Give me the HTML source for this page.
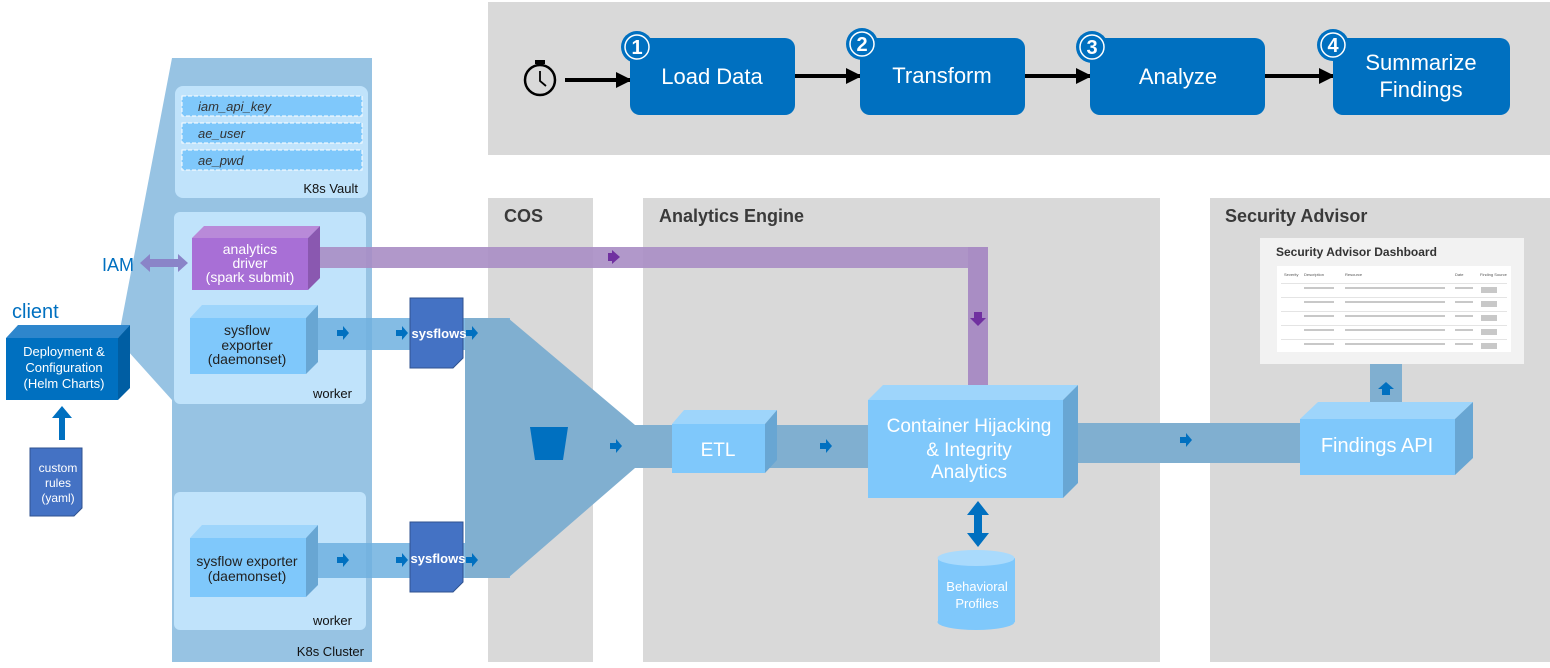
<!DOCTYPE html>
<html><head><meta charset="utf-8"><style>
html,body{margin:0;padding:0;background:#fff}
svg{display:block}
text{font-family:"Liberation Sans",sans-serif}
</style></head><body>
<svg width="1550" height="668" viewBox="0 0 1550 668" xmlns="http://www.w3.org/2000/svg">
<defs>
<marker id="ah" markerWidth="16" markerHeight="16" refX="14" refY="8" orient="auto" markerUnits="userSpaceOnUse"><path d="M0,0 L16,8 L0,16 z" fill="#000"/></marker>
</defs>
<!-- top panel -->
<rect x="488" y="2" width="1062" height="153" fill="#d9d9d9"/>
<!-- lower panels -->
<rect x="488" y="198" width="105" height="464" fill="#d9d9d9"/>
<rect x="643" y="198" width="517" height="464" fill="#d9d9d9"/>
<rect x="1210" y="198" width="340" height="464" fill="#d9d9d9"/>
<text x="504" y="222" font-size="18" font-weight="bold" fill="#3a3a3a">COS</text>
<text x="659" y="222" font-size="18" font-weight="bold" fill="#3a3a3a">Analytics Engine</text>
<text x="1225" y="222" font-size="18" font-weight="bold" fill="#3a3a3a">Security Advisor</text>

<!-- top pipeline -->
<g>
<circle cx="540" cy="80" r="15" fill="none" stroke="#000" stroke-width="2.5"/>
<rect x="535" y="60" width="10" height="4" fill="#000"/>
<path d="M540,71 L540,81 L546,86" stroke="#000" stroke-width="1.8" fill="none"/>
<line x1="565" y1="80" x2="630" y2="80" stroke="#000" stroke-width="4" marker-end="url(#ah)"/>
<line x1="795" y1="76" x2="860" y2="76" stroke="#000" stroke-width="4" marker-end="url(#ah)"/>
<line x1="1025" y1="76" x2="1090" y2="76" stroke="#000" stroke-width="4" marker-end="url(#ah)"/>
<line x1="1265" y1="76" x2="1333" y2="76" stroke="#000" stroke-width="4" marker-end="url(#ah)"/>
<rect x="630" y="38" width="165" height="77" rx="10" fill="#0070c0"/>
<rect x="860" y="38" width="165" height="77" rx="10" fill="#0070c0"/>
<rect x="1090" y="38" width="175" height="77" rx="10" fill="#0070c0"/>
<rect x="1333" y="38" width="177" height="77" rx="10" fill="#0070c0"/>
<text x="712" y="84" font-size="22" fill="#fff" text-anchor="middle">Load Data</text>
<text x="942" y="83" font-size="22" fill="#fff" text-anchor="middle">Transform</text>
<text x="1178" y="84" font-size="22" fill="#fff" text-anchor="middle">Analyze</text>
<text x="1421" y="70" font-size="22" fill="#fff" text-anchor="middle">Summarize</text>
<text x="1421" y="97" font-size="22" fill="#fff" text-anchor="middle">Findings</text>
<g font-size="20" font-weight="bold" fill="#fff" text-anchor="middle">
<circle cx="637" cy="47" r="16" fill="#0070c0"/><circle cx="637" cy="47" r="12" fill="none" stroke="#fff" stroke-width="1.5"/><text x="637" y="54">1</text>
<circle cx="862" cy="44" r="16" fill="#0070c0"/><circle cx="862" cy="44" r="12" fill="none" stroke="#fff" stroke-width="1.5"/><text x="862" y="51">2</text>
<circle cx="1092" cy="47" r="16" fill="#0070c0"/><circle cx="1092" cy="47" r="12" fill="none" stroke="#fff" stroke-width="1.5"/><text x="1092" y="54">3</text>
<circle cx="1333" cy="45" r="16" fill="#0070c0"/><circle cx="1333" cy="45" r="12" fill="none" stroke="#fff" stroke-width="1.5"/><text x="1333" y="52">4</text>
</g>
</g>

<!-- K8s cluster -->
<polygon points="172,58 372,58 372,662 172,662 172,400 118,340" fill="#97c3e3"/>
<rect x="175" y="86" width="193" height="112" rx="8" fill="#c0e3fb"/>
<g font-size="13" font-style="italic" fill="#333">
<rect x="182" y="96" width="180" height="20" fill="#7fc8fb" stroke="#fff" stroke-dasharray="4,2"/><text x="198" y="111">iam_api_key</text>
<rect x="182" y="123" width="180" height="20" fill="#7fc8fb" stroke="#fff" stroke-dasharray="4,2"/><text x="198" y="138">ae_user</text>
<rect x="182" y="150" width="180" height="20" fill="#7fc8fb" stroke="#fff" stroke-dasharray="4,2"/><text x="198" y="165">ae_pwd</text>
</g>
<text x="358" y="193" font-size="13" fill="#111" text-anchor="end">K8s Vault</text>
<rect x="174" y="212" width="192" height="192" rx="6" fill="#c0e3fb"/>
<text x="352" y="398" font-size="13" fill="#111" text-anchor="end">worker</text>
<rect x="174" y="492" width="192" height="138" rx="6" fill="#c0e3fb"/>
<text x="352" y="625" font-size="13" fill="#111" text-anchor="end">worker</text>
<text x="364" y="656" font-size="13" fill="#111" text-anchor="end">K8s Cluster</text>

<!-- bands -->
<rect x="308" y="247" width="680" height="21" fill="#a98dc4" opacity="0.9"/>
<rect x="968" y="247" width="20" height="138" fill="#a98dc4"/>
<rect x="608" y="253" width="5" height="8" fill="#7030a0"/><path d="M612,250 L620,257 L612,264 z" fill="#7030a0"/>
<rect x="974" y="312" width="8" height="6" fill="#7030a0"/><path d="M970,318 L986,318 L978,326 z" fill="#7030a0"/>
<path d="M140,263 L150,254 L150,259 L178,259 L178,254 L188,263 L178,272 L178,267 L150,267 L150,272 z" fill="#8a84c8"/>
<text x="102" y="271" font-size="18" fill="#0070c0">IAM</text>

<g fill="#6fb0df" opacity="0.85">
<rect x="305" y="318" width="205" height="32"/>
<rect x="305" y="543" width="205" height="35"/>
</g>
<polygon points="465,318 508,318 635,425 635,468 508,578 465,578" fill="#80afd0"/>
<rect x="630" y="425" width="245" height="43" fill="#80afd0"/>
<rect x="1075" y="423" width="230" height="40" fill="#80afd0"/>
<rect x="1370" y="364" width="32" height="40" fill="#80afd0"/>
<polygon points="530,427 568,427 563,460 535,460" fill="#0070c0"/>

<!-- small arrows -->
<g fill="#0070c0">
<path d="M337,330 h6 v-4 l6,7 l-6,7 v-4 h-6z"/>
<path d="M396,330 h6 v-4 l6,7 l-6,7 v-4 h-6z"/>
<path d="M466,330 h6 v-4 l6,7 l-6,7 v-4 h-6z"/>
<path d="M337,557 h6 v-4 l6,7 l-6,7 v-4 h-6z"/>
<path d="M396,557 h6 v-4 l6,7 l-6,7 v-4 h-6z"/>
<path d="M466,557 h6 v-4 l6,7 l-6,7 v-4 h-6z"/>
<path d="M610,443 h6 v-4 l6,7 l-6,7 v-4 h-6z"/>
<path d="M820,443 h6 v-4 l6,7 l-6,7 v-4 h-6z"/>
<path d="M1180,437 h6 v-4 l6,7 l-6,7 v-4 h-6z"/>
<path d="M1382,395 v-6 h-4 l8,-7 l8,7 h-4 v6z"/>
<path d="M59,440 v-22 h-7 l10,-12 l10,12 h-7 v22z"/>
<path d="M974,515 v18 h-7 l11,14 l11,-14 h-7 v-18 h7 l-11,-14 l-11,14z"/>
</g>

<!-- sysflows docs -->
<g>
<path d="M410,298 h53 v60 l-10,10 h-43z" fill="#4472c4" stroke="#2f528f"/>
<text x="439" y="338" font-size="13" font-weight="bold" fill="#fff" text-anchor="middle">sysflows</text>
<path d="M410,522 h53 v60 l-10,10 h-43z" fill="#4472c4" stroke="#2f528f"/>
<text x="438" y="563" font-size="13" font-weight="bold" fill="#fff" text-anchor="middle">sysflows</text>
<path d="M30,448 h52 v60 l-8,8 h-44z" fill="#4472c4" stroke="#2f528f"/>
<g font-size="12" fill="#fff" text-anchor="middle"><text x="58" y="472">custom</text><text x="58" y="487">rules</text><text x="58" y="502">(yaml)</text></g>
</g>

<!-- 3D boxes -->
<polygon points="6,338 18,325 130,325 118,338" fill="#2e86cc"/>
<polygon points="118,338 130,325 130,388 118,400" fill="#005ea3"/>
<rect x="6" y="338" width="112" height="62" fill="#0070c0"/>
<text x="12" y="318" font-size="20" fill="#0070c0">client</text>
<g font-size="13" fill="#fff" text-anchor="middle"><text x="64" y="356">Deployment &amp;</text><text x="64" y="372">Configuration</text><text x="64" y="388">(Helm Charts)</text></g>
<polygon points="192,238 204,226 320,226 308,238" fill="#b98ad9"/>
<polygon points="308,238 320,226 320,278 308,290" fill="#8a58b0"/>
<rect x="192" y="238" width="116" height="52" fill="#a86fd6"/>
<g font-size="14" fill="#fff" text-anchor="middle"><text x="250" y="254">analytics</text><text x="250" y="268">driver</text><text x="250" y="282">(spark submit)</text></g>
<polygon points="190,318 202,305 318,305 306,318" fill="#9ed5fb"/>
<polygon points="306,318 318,305 318,362 306,374" fill="#68a6d3"/>
<rect x="190" y="318" width="116" height="56" fill="#7fc8fb"/>
<g font-size="14" fill="#222" text-anchor="middle"><text x="247" y="335">sysflow</text><text x="247" y="350">exporter</text><text x="247" y="364">(daemonset)</text></g>
<polygon points="190,538 202,525 318,525 306,538" fill="#9ed5fb"/>
<polygon points="306,538 318,525 318,585 306,597" fill="#68a6d3"/>
<rect x="190" y="538" width="116" height="59" fill="#7fc8fb"/>
<g font-size="14" fill="#222" text-anchor="middle"><text x="247" y="566">sysflow exporter</text><text x="247" y="581">(daemonset)</text></g>
<polygon points="672,424 684,410 777,410 765,424" fill="#9ed5fb"/>
<polygon points="765,424 777,410 777,460 765,473" fill="#68a6d3"/>
<rect x="672" y="424" width="93" height="49" fill="#7fc8fb"/>
<text x="718" y="456" font-size="19" fill="#fff" text-anchor="middle">ETL</text>
<polygon points="868,400 883,385 1078,385 1063,400" fill="#9ed5fb"/>
<polygon points="1063,400 1078,385 1078,483 1063,498" fill="#68a6d3"/>
<rect x="868" y="400" width="195" height="98" fill="#7fc8fb"/>
<g font-size="19" fill="#fff" text-anchor="middle"><text x="969" y="432">Container Hijacking</text><text x="969" y="456">&amp; Integrity</text><text x="969" y="478">Analytics</text></g>
<polygon points="1300,419 1318,402 1473,402 1455,419" fill="#9ed5fb"/>
<polygon points="1455,419 1473,402 1473,458 1455,475" fill="#68a6d3"/>
<rect x="1300" y="419" width="155" height="56" fill="#7fc8fb"/>
<text x="1377" y="452" font-size="20" fill="#fff" text-anchor="middle">Findings API</text>
<rect x="938" y="558" width="77" height="64" fill="#7fc8fb"/>
<ellipse cx="976" cy="622" rx="38.5" ry="8" fill="#7fc8fb"/>
<ellipse cx="976" cy="558" rx="38.5" ry="8" fill="#a9dafc"/>
<g font-size="13" fill="#fff" text-anchor="middle"><text x="977" y="591">Behavioral</text><text x="977" y="608">Profiles</text></g>

<!-- dashboard -->
<rect x="1260" y="238" width="264" height="126" fill="#f2f2f2"/>
<text x="1276" y="256" font-size="12" font-weight="bold" fill="#333">Security Advisor Dashboard</text>
<rect x="1277" y="266" width="234" height="86" fill="#fff"/>
<g fill="#e4e4e4">
<rect x="1281" y="283" width="226" height="1"/><rect x="1281" y="297" width="226" height="1"/><rect x="1281" y="311" width="226" height="1"/><rect x="1281" y="325" width="226" height="1"/><rect x="1281" y="339" width="226" height="1"/>
</g>
<g font-size="4" fill="#555"><text x="1284" y="276">Severity</text><text x="1304" y="276">Description</text><text x="1345" y="276">Resource</text><text x="1455" y="276">Date</text><text x="1480" y="276">Finding Source</text></g>
<g fill="#c8c8c8">
<rect x="1345" y="287" width="100" height="2"/><rect x="1345" y="301" width="100" height="2"/><rect x="1345" y="315" width="100" height="2"/><rect x="1345" y="329" width="100" height="2"/><rect x="1345" y="343" width="100" height="2"/>
<rect x="1304" y="287" width="30" height="2"/><rect x="1304" y="301" width="30" height="2"/><rect x="1304" y="315" width="30" height="2"/><rect x="1304" y="329" width="30" height="2"/><rect x="1304" y="343" width="30" height="2"/>
<rect x="1455" y="287" width="18" height="2"/><rect x="1455" y="301" width="18" height="2"/><rect x="1455" y="315" width="18" height="2"/><rect x="1455" y="329" width="18" height="2"/><rect x="1455" y="343" width="18" height="2"/>
<rect x="1481" y="287" width="16" height="6"/><rect x="1481" y="301" width="16" height="6"/><rect x="1481" y="315" width="16" height="6"/><rect x="1481" y="329" width="16" height="6"/><rect x="1481" y="343" width="16" height="6"/>
</g>
</svg>
</body></html>
